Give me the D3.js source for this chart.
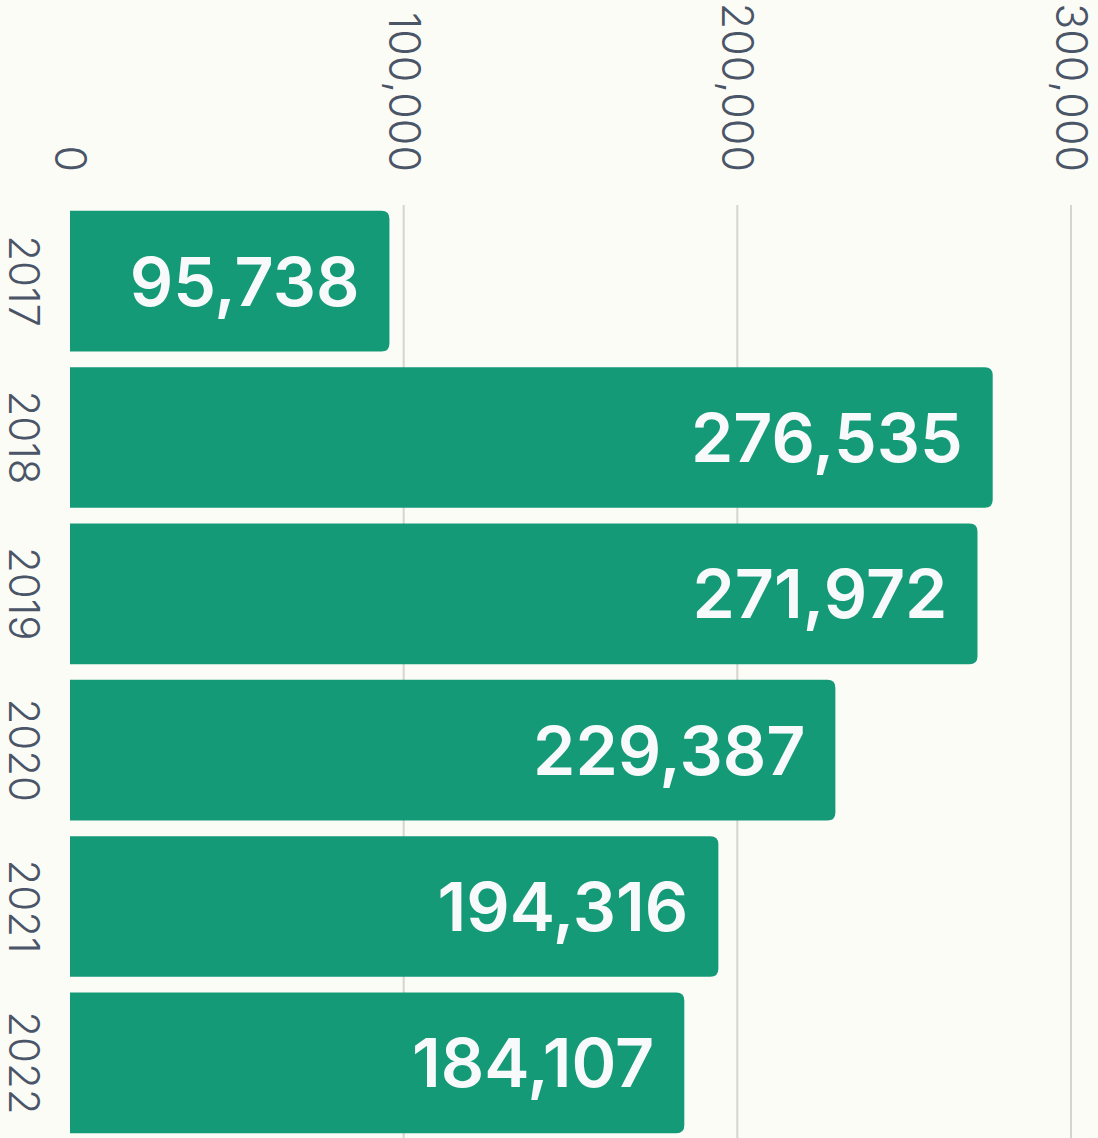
<!DOCTYPE html>
<html>
<head>
<meta charset="utf-8">
<script src="https://cdn.jsdelivr.net/npm/d3@7"></script>
<style>
  html, body { margin: 0; padding: 0; background: #fcfcf7; }
  svg { display: block; }
</style>
</head>
<body>
<svg id="chart" width="1098" height="1138"></svg>
<script>
// Yearly totals
const years = ["2017", "2018", "2019", "2020", "2021", "2022"];
const totals = [95738, 276535, 271972, 229387, 194316, 184107];
const tickValues = [0, 100000, 200000, 300000];

const width = 1098, height = 1138;
const svg = d3.select("#chart");

svg.append("rect").attr("width", width).attr("height", height).attr("fill", "#fcfcf7");

const x = d3.scaleLinear().domain([0, 300000]).range([70, 1071]);
const y = d3.scaleBand().domain(years).range([203, 1141]).paddingInner(0.1).paddingOuter(0.05);

const fmt = d3.format(",");
const axisFont = "Inter, 'Open Sans', sans-serif";

// Vertical gridlines
svg.append("g")
  .selectAll("line")
  .data(tickValues.filter(t => t > 0))
  .join("line")
  .attr("x1", d => x(d)).attr("x2", d => x(d))
  .attr("y1", 205).attr("y2", height)
  .attr("stroke", "#d4d4d0")
  .attr("stroke-width", 2);

// Value tick labels, rotated to read downward
svg.append("g")
  .selectAll("text")
  .data(tickValues)
  .join("text")
  .attr("transform", d => `translate(${x(d)},172) rotate(90)`)
  .attr("text-anchor", "end")
  .attr("dy", "0.35em")
  .attr("font-family", axisFont)
  .attr("font-weight", 300)
  .attr("font-size", 43)
  .attr("fill", "#4a5568")
  .text(d => fmt(d));

// Year labels
svg.append("g")
  .selectAll("text")
  .data(years)
  .join("text")
  .attr("transform", d => `translate(24,${y(d) + y.bandwidth() / 2}) rotate(90)`)
  .attr("text-anchor", "middle")
  .attr("dy", "0.35em")
  .attr("font-family", axisFont)
  .attr("font-weight", 300)
  .attr("font-size", 42)
  .attr("fill", "#4a5568")
  .text(d => d);

// Bars with rounded right end
const r = 8;
function barPath(x0, x1, y0, h) {
  return `M${x0},${y0}H${x1 - r}Q${x1},${y0} ${x1},${y0 + r}V${y0 + h - r}Q${x1},${y0 + h} ${x1 - r},${y0 + h}H${x0}Z`;
}

const rows = years.map((yr, i) => ({ year: yr, value: totals[i] }));

svg.append("g")
  .selectAll("path")
  .data(rows)
  .join("path")
  .attr("d", d => barPath(x(0), x(d.value), y(d.year), y.bandwidth()))
  .attr("fill", "#159a78");

// Value labels inside the bars
svg.append("g")
  .selectAll("text")
  .data(rows)
  .join("text")
  .attr("x", d => x(d.value) - 30)
  .attr("y", d => y(d.year) + y.bandwidth() / 2)
  .attr("dy", "0.36em")
  .attr("text-anchor", "end")
  .attr("font-family", axisFont)
  .attr("font-weight", 600)
  .attr("font-size", 68)
  .attr("fill", "#f7f9fb")
  .text(d => fmt(d.value));
</script>
</body>
</html>
